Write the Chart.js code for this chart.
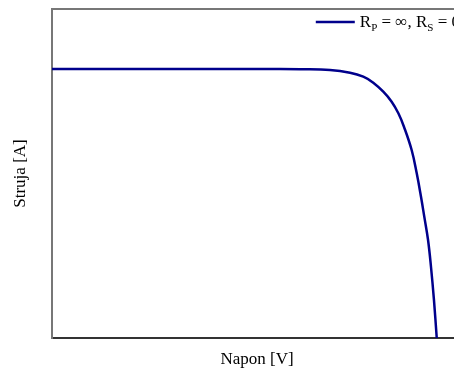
<!DOCTYPE html>
<html>
<head>
<meta charset="utf-8">
<script src="https://cdn.jsdelivr.net/npm/chart.js@4/dist/chart.umd.min.js"></script>
<style>
  html, body { margin: 0; padding: 0; background: #fff; overflow: hidden; }
  #wrap { width: 470px; height: 368px; }
</style>
</head>
<body>
<div id="wrap"><canvas id="ivChart"></canvas></div>
<script>
// I-V kriva (ocitano sa slike)
const napon  = [0, 5, 10, 13.9, 15.12, 16.95, 18.17, 18.98, 19.59, 20.2, 20.71, 21.12, 21.46, 21.93, 22.24, 22.5, 22.7, 22.93, 23.11, 23.29, 23.46];
const struja = [4.088, 4.088, 4.088, 4.088, 4.085, 4.073, 4.032, 3.971, 3.88, 3.743, 3.591, 3.415, 3.211, 2.857, 2.503, 2.147, 1.844, 1.489, 1.079, 0.578, 0];

// legenda: [tekst, indeks?]
const legendParts = [['R', false], ['P', true], [' = \u221E, R', false], ['S', true], [' = 0', false]];

const serif = "'Liberation Serif', 'Times New Roman', serif";
const lineColor = '#00008c';

// okvir oko grafika i legenda sa indeksima
const framePlugin = {
  id: 'frame',
  afterDatasetsDraw(chart) {
    const { ctx, chartArea: a } = chart;
    ctx.save();
    ctx.strokeStyle = '#777';
    ctx.lineWidth = 2;
    ctx.beginPath();
    ctx.moveTo(a.left, a.top);
    ctx.lineTo(a.right, a.top);
    ctx.lineTo(a.right, a.bottom);
    ctx.stroke();

    // sirina teksta
    let w = 0;
    legendParts.forEach(([t, sub]) => {
      ctx.font = (sub ? 11 : 17) + 'px ' + serif;
      w += ctx.measureText(t).width;
    });
    const y = 22;
    let x = a.right - 2 - w;
    ctx.strokeStyle = lineColor;
    ctx.lineWidth = 2.5;
    ctx.beginPath();
    ctx.moveTo(x - 44, y);
    ctx.lineTo(x - 5, y);
    ctx.stroke();
    ctx.fillStyle = '#000';
    ctx.textBaseline = 'alphabetic';
    legendParts.forEach(([t, sub]) => {
      ctx.font = (sub ? 11 : 17) + 'px ' + serif;
      ctx.fillText(t, x, sub ? y + 9 : y + 5);
      x += ctx.measureText(t).width;
    });
    ctx.restore();
  }
};

const points = napon.map((v, i) => ({ x: v, y: struja[i] }));

new Chart(document.getElementById('ivChart'), {
  type: 'line',
  data: {
    datasets: [{
      label: 'RP = \u221E, RS = 0',
      data: points,
      borderColor: lineColor,
      borderWidth: 2.5,
      pointRadius: 0,
      tension: 0.4,
      fill: false
    }]
  },
  options: {
    responsive: true,
    maintainAspectRatio: false,
    animation: false,
    layout: { padding: { top: 9, right: 8, left: 0, bottom: 0 } },
    plugins: {
      legend: { display: false },
      tooltip: { enabled: false }
    },
    scales: {
      x: {
        type: 'linear',
        min: 0,
        max: 25,
        ticks: { display: false },
        grid: { display: false },
        border: { color: '#333', width: 2 },
        title: {
          display: true,
          text: 'Napon [V]',
          color: '#000',
          font: { family: serif, size: 17, lineHeight: 1 },
          padding: { top: 0, bottom: 0 }
        },
        afterFit: s => { s.height = 30; }
      },
      y: {
        min: 0,
        max: 5,
        ticks: { display: false },
        grid: { display: false },
        border: { color: '#777', width: 2 },
        title: {
          display: true,
          text: 'Struja [A]',
          color: '#000',
          font: { family: serif, size: 17, lineHeight: 1 },
          padding: { top: 12, bottom: 0 }
        },
        afterFit: s => { s.width = 52; }
      }
    }
  },
  plugins: [framePlugin]
});
</script>
</body>
</html>
